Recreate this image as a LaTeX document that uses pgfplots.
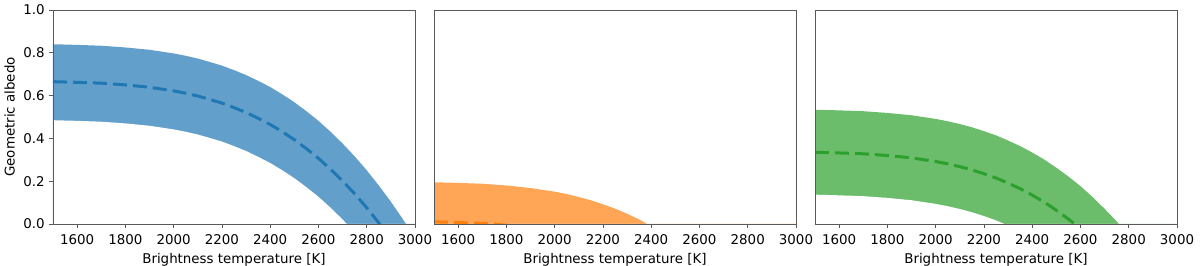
\documentclass[border=0pt]{standalone}
\usepackage{fontspec}
\setmainfont{DejaVu Sans}
\usepackage{pgfplots}
\usepackage{pgfplotstable}
\pgfplotsset{compat=1.18}
\definecolor{tabblue}{HTML}{1F77B4}
\definecolor{taborange}{HTML}{FF7F0E}
\definecolor{tabgreen}{HTML}{2CA02C}

\pgfplotstableread{
T up mid lo
1500 0.840 0.665 0.485
1600 0.837 0.662 0.482
1700 0.833 0.658 0.478
1800 0.825 0.650 0.470
1900 0.814 0.639 0.459
2000 0.797 0.622 0.442
2050 0.786 0.611 0.431
2100 0.773 0.598 0.418
2150 0.757 0.582 0.402
2200 0.740 0.565 0.385
2250 0.719 0.544 0.364
2300 0.696 0.521 0.341
2350 0.669 0.494 0.314
2400 0.640 0.465 0.285
2450 0.606 0.431 0.251
2500 0.569 0.394 0.214
2550 0.527 0.352 0.172
2600 0.482 0.307 0.127
2650 0.431 0.256 0.076
2700 0.376 0.201 0.021
2750 0.316 0.141 -0.039
2800 0.251 0.076 -0.104
2850 0.180 0.005 -0.175
2900 0.104 -0.071 -0.251
2950 0.022 -0.153 -0.333
3000 -0.065 -0.240 -0.420
}\blueT

\pgfplotstableread{
T up mid lo
1500 0.195 0.010 -0.175
1600 0.192 0.007 -0.178
1700 0.188 0.003 -0.182
1800 0.180 -0.005 -0.190
1900 0.168 -0.017 -0.202
2000 0.151 -0.034 -0.219
2050 0.140 -0.046 -0.231
2100 0.126 -0.059 -0.244
2150 0.111 -0.075 -0.260
2200 0.092 -0.093 -0.278
2250 0.072 -0.114 -0.299
2300 0.048 -0.137 -0.322
2350 0.021 -0.164 -0.349
2400 -0.010 -0.195 -0.380
2450 -0.044 -0.229 -0.414
2500 -0.082 -0.267 -0.452
2550 -0.125 -0.310 -0.495
2600 -0.171 -0.356 -0.541
2650 -0.223 -0.408 -0.593
2700 -0.279 -0.464 -0.649
2750 -0.340 -0.525 -0.710
2800 -0.407 -0.592 -0.777
2850 -0.479 -0.664 -0.849
2900 -0.557 -0.742 -0.927
2950 -0.641 -0.826 -1.011
3000 -0.730 -0.915 -1.100
}\orangeT

\pgfplotstableread{
T up mid lo
1500 0.534 0.335 0.137
1600 0.531 0.332 0.134
1700 0.527 0.328 0.130
1800 0.519 0.320 0.122
1900 0.508 0.309 0.111
2000 0.491 0.292 0.094
2050 0.480 0.281 0.083
2100 0.467 0.268 0.070
2150 0.452 0.253 0.055
2200 0.434 0.235 0.037
2250 0.414 0.215 0.017
2300 0.390 0.191 -0.007
2350 0.364 0.165 -0.033
2400 0.334 0.135 -0.063
2450 0.301 0.102 -0.096
2500 0.263 0.064 -0.134
2550 0.222 0.023 -0.175
2600 0.177 -0.022 -0.220
2650 0.126 -0.073 -0.271
2700 0.071 -0.128 -0.326
2750 0.012 -0.187 -0.385
2800 -0.053 -0.252 -0.450
2850 -0.124 -0.323 -0.521
2900 -0.200 -0.399 -0.597
2950 -0.281 -0.480 -0.678
3000 -0.369 -0.568 -0.766
}\greenT

\pgfplotsset{
  panel/.style={
    scale only axis, width=181pt, height=107pt,
    xmin=1500, xmax=3000, ymin=0, ymax=1,
    xtick={1600,1800,...,3000},
    axis line style={black!65, line width=0.4pt},
    tick style={black!65, line width=0.4pt},
    tick align=outside, major tick length=2.2pt,
    xtick pos=bottom, ytick pos=left,
    tick label style={font=\fontsize{6.7}{7}\selectfont, text=black},
    label style={font=\fontsize{6.7}{7}\selectfont},
    xlabel={Brightness temperature [K]},
    /pgf/number format/assume math mode=true,
    /pgf/number format/set thousands separator={},
    xticklabel style={yshift=0.4pt},
    xlabel style={yshift=2.5pt},
    axis on top,
    clip=true,
  },
}

\begin{document}
\begin{tikzpicture}
\useasboundingbox (-26.5pt,-21pt) rectangle (573.5pt,112pt);
% Panel 1
\begin{axis}[panel, at={(0pt,0pt)}, anchor=south west,
  ytick={0,0.2,0.4,0.6,0.8,1.0},
  yticklabel style={xshift=1.6pt,/pgf/number format/fixed,/pgf/number format/fixed zerofill,/pgf/number format/precision=1},
  ylabel={Geometric albedo}, ylabel style={yshift=-2.5pt}]
  \addplot[draw=none, fill=tabblue!70!white] table[x=T,y=up]{\blueT} \closedcycle;
  \addplot[draw=none, fill=white] table[x=T,y=lo]{\blueT} \closedcycle;
  \addplot[tabblue, line width=1.5pt, dash pattern=on 7pt off 3pt] table[x=T,y=mid]{\blueT};
\end{axis}
% Panel 2
\begin{axis}[panel, at={(190.5pt,0pt)}, anchor=south west, ytick=\empty]
  \addplot[draw=none, fill=taborange!70!white] table[x=T,y=up]{\orangeT} \closedcycle;
  \addplot[draw=none, fill=white] table[x=T,y=lo]{\orangeT} \closedcycle;
  \addplot[taborange, line width=1.5pt, dash pattern=on 7pt off 3pt] table[x=T,y=mid]{\orangeT};
\end{axis}
% Panel 3
\begin{axis}[panel, at={(381pt,0pt)}, anchor=south west, ytick=\empty]
  \addplot[draw=none, fill=tabgreen!70!white] table[x=T,y=up]{\greenT} \closedcycle;
  \addplot[draw=none, fill=white] table[x=T,y=lo]{\greenT} \closedcycle;
  \addplot[tabgreen, line width=1.5pt, dash pattern=on 7pt off 3pt] table[x=T,y=mid]{\greenT};
\end{axis}
\end{tikzpicture}
\end{document}
